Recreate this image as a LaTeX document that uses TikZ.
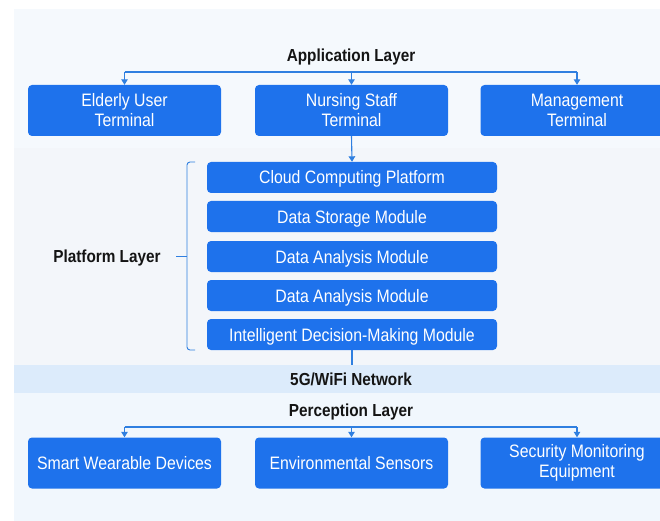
\documentclass[tikz,border=0pt]{standalone}
\usepackage{fontspec}
\setmainfont{Liberation Sans}[FakeStretch=0.88]
\usetikzlibrary{arrows.meta}
\definecolor{boxblue}{HTML}{1E72EC}
\definecolor{lineblue}{HTML}{2F7FE0}
\definecolor{bgtop}{HTML}{F5F9FD}
\definecolor{bgmid}{HTML}{F3F6FA}
\definecolor{bgnet}{HTML}{DCEBFB}
\definecolor{bgbot}{HTML}{F1F7FD}
\definecolor{txt}{HTML}{141414}
\tikzset{
  bigbox/.style={fill=boxblue, rounded corners=4pt, minimum width=193pt, minimum height=51pt,
    text=white, align=center, font=\fontsize{18}{20}\selectfont, inner sep=1pt},
  modbox/.style={fill=boxblue, rounded corners=4pt, minimum width=290pt, minimum height=31pt,
    text=white, align=center, font=\fontsize{18}{20}\selectfont, inner sep=1pt,
    text height=13pt, text depth=0pt},
  title/.style={text=txt, font=\fontsize{17.4}{19}\selectfont\bfseries,
    text height=12.5pt, text depth=0pt},
  conn/.style={draw=lineblue, line width=1.1pt},
  arr/.style={conn, -{Triangle[width=6.5pt,length=5.5pt]}},
}
\begin{document}
\begin{tikzpicture}[x=1pt,y=-1pt]
\useasboundingbox (0,0) rectangle (660,521);
\clip (0,0) rectangle (660,521);
\fill[white] (0,0) rectangle (660,521);
\fill[bgtop] (14,9) rectangle (660,148);
\fill[bgmid] (14,148) rectangle (660,365);
\fill[bgnet] (14,365) rectangle (660,393);
\fill[bgbot] (14,393) rectangle (660,521);

% Application layer
\node[title] (app) at (351,55) {Application Layer};
\node[bigbox] (eld) at (124.5,110.5) {Elderly User\\Terminal};
\node[bigbox] (nur) at (351.5,110.5) {Nursing Staff\\Terminal};
\node[bigbox] (man) at (577,110.5) {Management\\Terminal};
\coordinate (aL) at (124.5,72);
\coordinate (aM) at (351.5,72);
\coordinate (aR) at (577,72);
\draw[conn] (aL) -- (aR);
\draw[arr] (aL) -- (eld.north);
\draw[arr] (aM) -- (nur.north);
\draw[arr] (aR) -- (man.north);

% Platform layer
\node[modbox] (cloud) at (352,177.5) {Cloud Computing Platform};
\node[modbox] (store) at (352,216.5) {Data Storage Module};
\node[modbox] (ana1) at (352,256.5) {Data Analysis Module};
\node[modbox] (ana2) at (352,295.5) {Data Analysis Module};
\node[modbox] (intel) at (352,334.5) {Intelligent Decision-Making Module};
\draw[arr] (nur.south) -- (cloud.north);

\node[title] (plat) at (107,256) {Platform Layer};
\coordinate (bT) at (195,162);
\coordinate (bB) at (195,350);
\coordinate (bM) at (187,256);
\draw[lineblue, line width=0.9pt, rounded corners=3pt] (bT) -- (187,162) -- (187,350) -- (bB);
\draw[lineblue, line width=0.9pt] (176,256) -- (bM);

% Network
\node[title] (net) at (351,379) {5G/WiFi Network};
\draw[conn] (intel.south) -- (352,365);

% Perception layer
\node[title] (per) at (351,410) {Perception Layer};
\node[bigbox] (wear) at (124.5,463) {Smart Wearable Devices};
\node[bigbox] (env) at (351.5,463) {Environmental Sensors};
\node[bigbox] (sec) at (577,463) {Security Monitoring\\Equipment};
\coordinate (pL) at (124.5,427);
\coordinate (pM) at (351.5,427);
\coordinate (pR) at (577,427);
\draw[conn] (pL) -- (pR);
\draw[arr] (pL) -- (wear.north);
\draw[arr] (pM) -- (env.north);
\draw[arr] (pR) -- (sec.north);
\end{tikzpicture}
\end{document}
